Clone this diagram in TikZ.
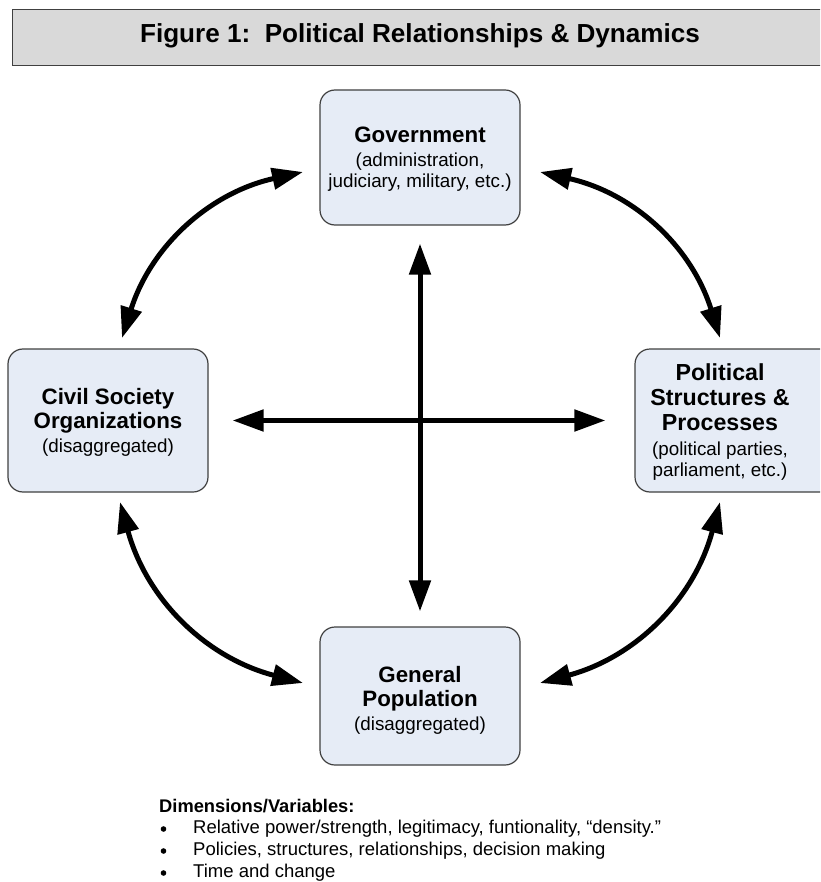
\documentclass[tikz,border=0pt]{standalone}
\usepackage{fontspec}
\setmainfont{Liberation Sans}
\usetikzlibrary{arrows.meta}
\definecolor{boxfill}{HTML}{E6ECF6}
\definecolor{boxline}{HTML}{404040}
\definecolor{titlefill}{HTML}{D9D9D9}
\tikzset{
  entity/.style={draw=boxline, line width=1.2pt, fill=boxfill, rounded corners=15pt, minimum width=200pt, inner sep=0pt},
  lbl/.style={align=center, font=\fontsize{18.8}{21}\selectfont, inner sep=0pt},
  arr/.style={line width=5pt, {Triangle[length=31pt,width=21pt]}-{Triangle[length=31pt,width=21pt]}},
}
\newcommand{\hd}[1]{{\fontsize{22.3}{25}\selectfont\bfseries #1}}
\newcommand{\hdp}[1]{{\fontsize{23.2}{25}\selectfont\bfseries #1}}
\begin{document}
\begin{tikzpicture}[x=1pt,y=-1pt]
\useasboundingbox (0,0) rectangle (820,882);
\clip (0,0) rectangle (820,882);
% title
\node[draw=boxline, line width=1pt, fill=titlefill, minimum width=818pt, minimum height=56pt, inner sep=0pt] (title) at (421,38) {};
\node[inner sep=0pt, font=\fontsize{26.1}{30}\selectfont\bfseries] (titletext) at (420,36) {Figure 1:\ \ Political Relationships \& Dynamics};
% boxes
\node[entity, minimum height=135pt] (gov) at (420,157.5) {};
\node[lbl] (govtext) at (420,159.5) {\hd{Government}\\[3pt](administration,\\judiciary, military, etc.)};
\node[entity, minimum height=143pt] (civ) at (108,420.5) {};
\node[lbl] (civtext) at (108,422) {\hd{Civil Society}\\[3pt]\hd{Organizations}\\[3pt](disaggregated)};
\node[entity, minimum height=143pt] (pol) at (735,420.5) {};
\node[lbl] (poltext) at (720,422) {\hdp{Political}\\[4pt]\hdp{Structures \&}\\[4pt]\hdp{Processes}\\[4pt](political parties,\\parliament, etc.)};
\node[entity, minimum height=138pt] (gen) at (420,696) {};
\node[lbl] (gentext) at (420,700) {\hd{General}\\[3pt]\hd{Population}\\[3pt](disaggregated)};
% straight arrows
\draw[arr, shorten <=18pt, shorten >=15pt] (gov.south) -- (gen.north);
\draw[arr, shorten <=24pt, shorten >=29pt] (civ.east) -- (pol.west);
% curved arrows
\coordinate (a1) at (122,338);
\coordinate (a2) at (303,172);
\coordinate (b1) at (540,172);
\coordinate (b2) at (720,338);
\coordinate (c1) at (120,502);
\coordinate (c2) at (303,683);
\coordinate (d1) at (540,683);
\coordinate (d2) at (720,502);
\draw[arr] (a1) to[bend left=30] (a2);
\draw[arr] (b1) to[bend left=30] (b2);
\draw[arr] (c1) to[bend right=30] (c2);
\draw[arr] (d1) to[bend right=30] (d2);
% bottom text
\node[anchor=west, inner sep=0pt, font=\fontsize{18.3}{20}\selectfont\bfseries] (dimhead) at (159,806) {Dimensions/Variables:};
\node[anchor=west, inner sep=0pt, font=\fontsize{18.5}{20}\selectfont] (b1t) at (193,829) {Relative power/strength, legitimacy, funtionality, “density.”};
\node[anchor=west, inner sep=0pt, font=\fontsize{18.5}{20}\selectfont] (b2t) at (193,851) {Policies, structures, relationships, decision making};
\node[anchor=west, inner sep=0pt, font=\fontsize{18.5}{20}\selectfont] (b3t) at (193,873) {Time and change};
\foreach \yy in {829,851,873}
  \fill (163.5,\yy) circle (2.8pt);
\end{tikzpicture}
\end{document}
